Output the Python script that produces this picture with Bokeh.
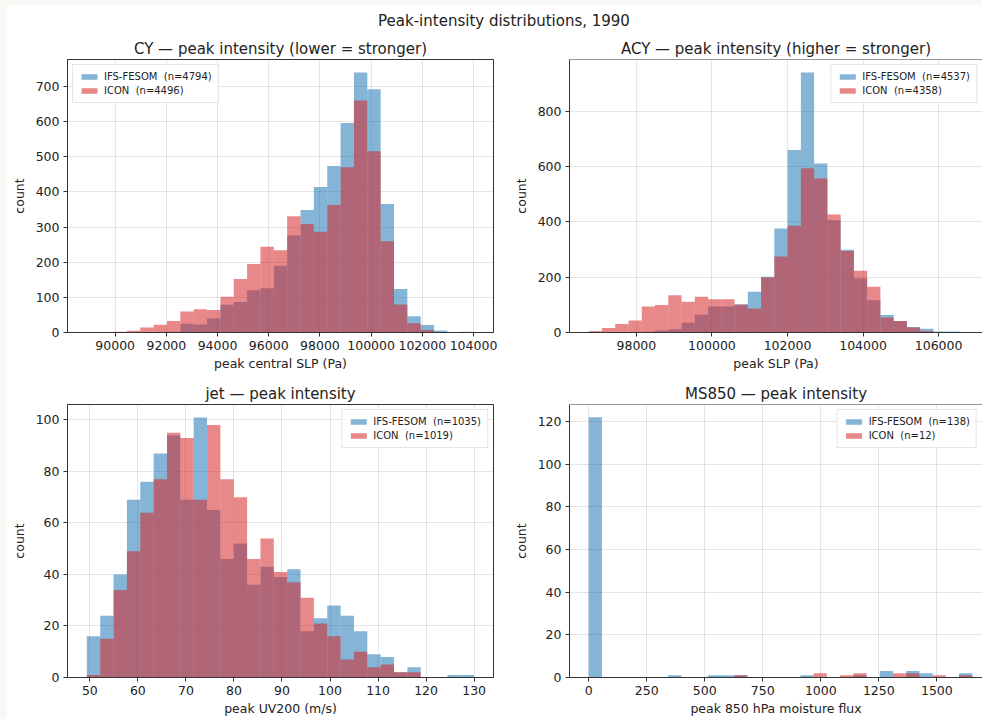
import numpy as np
from bokeh.plotting import figure
from bokeh.layouts import row, column
from bokeh.models import (Range1d, FixedTicker, BasicTickFormatter, Legend, LegendItem,
                          Label, Span, Spacer)
from bokeh.embed import file_html
from bokeh.resources import INLINE

# ---------------- data ----------------
SUPTITLE = "Peak-intensity distributions, 1990"
MODELS = ["IFS-FESOM", "ICON"]

# CY: peak central SLP (Pa), 29 bins
cy_bin_lo, cy_bin_hi, cy_nbins = 88893, 104024, 29
cy_ifs = [0, 0, 0, 0, 0, 1, 2, 25, 23, 40, 79, 87, 120, 126, 190, 276, 349, 414, 474,
          596, 740, 692, 366, 124, 46, 21, 6, 0, 2]
cy_icon = [0, 0, 2, 5, 14, 22, 33, 60, 66, 64, 102, 152, 195, 244, 234, 331, 309, 287,
           363, 470, 660, 516, 260, 80, 26, 7, 0, 0, 0]
cy_n = [4794, 4496]
cy_xticks = [90000, 92000, 94000, 96000, 98000, 100000, 102000, 104000]
cy_yticks = [0, 100, 200, 300, 400, 500, 600, 700]

# ACY: peak SLP (Pa), 29 bins
acy_bin_lo, acy_bin_hi, acy_nbins = 96738, 106917, 29
acy_ifs = [0, 0, 0, 0, 3, 7, 12, 35, 64, 94, 94, 102, 147, 202, 376, 660, 940, 611, 406,
           299, 195, 117, 63, 42, 20, 14, 4, 4, 1]
acy_icon = [5, 16, 31, 43, 94, 99, 135, 111, 129, 120, 120, 100, 87, 199, 275, 386, 594,
            557, 427, 295, 223, 165, 54, 42, 18, 5, 2, 0, 0]
acy_n = [4537, 4358]
acy_xticks = [98000, 100000, 102000, 104000, 106000]
acy_yticks = [0, 200, 400, 600, 800]

# jet: peak UV200 (m/s), 29 bins
jet_bin_lo, jet_bin_hi, jet_nbins = 49.38, 130.0, 29
jet_ifs = [16, 24, 40, 69, 76, 87, 94, 69, 101, 65, 46, 52, 36, 43, 39, 42, 18, 23, 28,
           24, 18, 9, 8, 2, 4, 0, 0, 1, 1]
jet_icon = [1, 15, 34, 49, 64, 77, 95, 93, 69, 98, 77, 70, 46, 54, 41, 37, 31, 21, 16,
            7, 10, 4, 5, 2, 2, 0, 0, 0, 0]
jet_n = [1035, 1019]
jet_xticks = [50, 60, 70, 80, 90, 100, 110, 120, 130]
jet_yticks = [0, 20, 40, 60, 80, 100]

# MS850: peak 850 hPa moisture flux, 29 bins
ms_bin_lo, ms_bin_hi, ms_nbins = 0, 1653, 29
ms_ifs = [122, 0, 0, 0, 0, 0, 1, 0, 0, 1, 1, 1, 0, 0, 0, 0, 1, 0, 0, 0, 1, 0, 3, 0, 3,
          2, 0, 0, 2]
ms_icon = [0, 0, 0, 0, 0, 0, 0, 0, 0, 0, 0, 1, 0, 0, 0, 0, 0, 2, 0, 1, 2, 0, 0, 2, 2,
           0, 1, 0, 1]
ms_n = [138, 12]
ms_xticks = [0, 250, 500, 750, 1000, 1250, 1500]
ms_yticks = [0, 20, 40, 60, 80, 100, 120]

# ---------------- style ----------------
FONT = "DejaVu Sans"
COLORS = ["#1f77b4", "#d62728"]
ALPHA = 0.55
AX_COLOR = "#333333"
TXT = "#222222"


def panel(title, xlabel, lo, hi, nb, ifs, icon, ns, xticks, yticks, xr, yr,
          width, height, bl, br, bt, bb, legend_loc, right_clip=False):
    p = figure(width=width, height=height, output_backend="svg", toolbar_location=None,
               x_range=Range1d(*xr), y_range=Range1d(*yr),
               min_border_left=bl, min_border_right=br, min_border_top=bt,
               min_border_bottom=bb, background_fill_color="white",
               border_fill_color="white")
    p.title.text = title
    p.title.align = "center"
    p.title.text_font = FONT
    p.title.text_font_size = "15px"
    p.title.text_font_style = "normal"
    p.title.text_color = TXT
    p.title.standoff = 4

    edges = np.linspace(lo, hi, nb + 1)
    items = []
    for name, counts, n, c in zip(MODELS, [ifs, icon], ns, COLORS):
        r = p.quad(left=edges[:-1], right=edges[1:], bottom=0, top=counts,
                   fill_color=c, fill_alpha=ALPHA, line_color=None)
        items.append(LegendItem(label=f"{name}  (n={n})", renderers=[r]))

    leg = Legend(items=items, location=legend_loc)
    leg.label_text_font = FONT
    leg.label_text_font_size = "10px"
    leg.label_text_color = TXT
    leg.glyph_width = 20
    leg.glyph_height = 7
    leg.label_height = 11
    leg.spacing = 3
    leg.padding = 6
    leg.margin = 5
    leg.border_line_color = "#cccccc"
    leg.background_fill_alpha = 0.85
    p.add_layout(leg)

    p.xaxis.ticker = FixedTicker(ticks=xticks)
    p.yaxis.ticker = FixedTicker(ticks=yticks)
    p.xaxis.formatter = BasicTickFormatter(use_scientific=False)
    p.xaxis.axis_label = xlabel
    p.yaxis.axis_label = "count"
    for ax in (p.xaxis, p.yaxis):
        ax.axis_line_color = AX_COLOR
        ax.major_tick_line_color = AX_COLOR
        ax.major_tick_out = 4
        ax.major_tick_in = 0
        ax.minor_tick_line_color = None
        ax.major_label_text_font = FONT
        ax.major_label_text_font_size = "12.5px"
        ax.major_label_text_color = TXT
        ax.major_label_standoff = 4
        ax.axis_label_text_font = FONT
        ax.axis_label_text_font_size = "12.5px"
        ax.axis_label_text_font_style = "normal"
        ax.axis_label_text_color = TXT
    p.xaxis.axis_label_standoff = 3
    p.yaxis.axis_label_standoff = 6
    p.grid.grid_line_color = "#000000"
    p.grid.grid_line_alpha = 0.1
    p.xgrid.ticker = FixedTicker(ticks=xticks)
    p.ygrid.ticker = FixedTicker(ticks=yticks)
    if right_clip:
        p.outline_line_color = None
        p.add_layout(Span(location=yr[1], dimension="width", line_color=AX_COLOR,
                          line_width=1))
    else:
        p.outline_line_color = AX_COLOR
    return p


p1 = panel("CY \u2014 peak intensity (lower = stronger)", "peak central SLP (Pa)",
           cy_bin_lo, cy_bin_hi, cy_nbins, cy_ifs, cy_icon, cy_n, cy_xticks, cy_yticks,
           (88137, 104781), (0, 777), 503, 346, 60, 17, 29, 44, "top_left")
p2 = panel("ACY \u2014 peak intensity (higher = stronger)", "peak SLP (Pa)",
           acy_bin_lo, acy_bin_hi, acy_nbins, acy_ifs, acy_icon, acy_n, acy_xticks,
           acy_yticks, (96229, 107162), (0, 987), 472, 346, 56, 0, 29, 44, "top_right",
           right_clip=True)
p3 = panel("jet \u2014 peak intensity", "peak UV200 (m/s)",
           jet_bin_lo, jet_bin_hi, jet_nbins, jet_ifs, jet_icon, jet_n, jet_xticks,
           jet_yticks, (45.35, 134.03), (0, 106), 503, 343, 60, 17, 28, 42, "top_right")
p4 = panel("MS850 \u2014 peak intensity", "peak 850 hPa moisture flux",
           ms_bin_lo, ms_bin_hi, ms_nbins, ms_ifs, ms_icon, ms_n, ms_xticks, ms_yticks,
           (-82.65, 1696.7), (0, 128), 472, 343, 56, 0, 28, 42, "top_right",
           right_clip=True)

header = figure(width=975, height=25, output_backend="svg", toolbar_location=None,
                x_range=Range1d(0, 1), y_range=Range1d(0, 1), x_axis_type=None,
                y_axis_type=None, min_border=0, outline_line_color=None,
                background_fill_color="white", border_fill_color="white")
header.grid.visible = False
header.add_layout(Label(x=496.5, y=10, x_units="screen", y_units="screen", text=SUPTITLE,
                        text_align="center", text_baseline="middle", text_font=FONT,
                        text_font_size="15px", text_color=TXT))

BG = "#f8f8f4"
left_strip = Spacer(width=7, height=719, styles={"background-color": BG})
top_strip = Spacer(width=975, height=5, styles={"background-color": BG})

layout = row(left_strip, column(top_strip, header, row(p1, p2), row(p3, p4)))

open("out.html", "w").write(file_html(layout, INLINE, title="Peak-intensity distributions"))
